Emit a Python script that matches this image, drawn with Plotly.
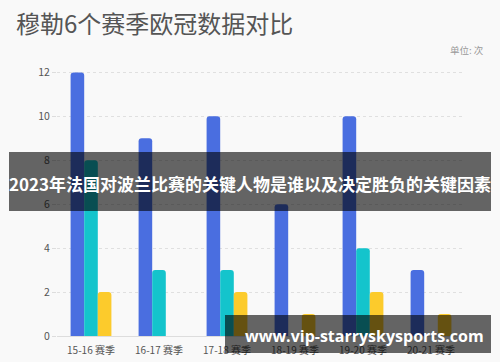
import plotly.graph_objects as go

categories = ["15-16 赛季", "16-17 赛季", "17-18 赛季", "18-19 赛季", "19-20 赛季", "20-21 赛季"]
series_a = [12, 9, 10, 6, 10, 3]
series_b = [8, 3, 3, 0, 4, 0]
series_c = [2, 0, 2, 1, 2, 1]
y_ticks = [0, 2, 4, 6, 8, 10, 12]

colors = ["#4a6ee0", "#14c4cc", "#fccb2c"]
FONT = "Noto Sans CJK SC"

fig = go.Figure()
for vals, col in zip([series_a, series_b, series_c], colors):
    fig.add_trace(go.Bar(x=categories, y=vals, marker=dict(color=col, line=dict(width=0)),
                         showlegend=False, hoverinfo="skip"))

L, R, T, B = 57, 35, 68, 26
W, H = 500, 362
pw, ph = W - L - R, H - T - B

def px(x):
    return (x - L) / pw

def py(y):
    return (H - B - y) / ph

fig.update_layout(
    width=W, height=H,
    margin=dict(l=L, r=R, t=T, b=B, autoexpand=False),
    paper_bgcolor="#f9f9f9", plot_bgcolor="#f9f9f9",
    barmode="group", bargap=0.4, bargroupgap=0, barcornerradius=3,
    font=dict(family=FONT, color="#555555"),
    xaxis=dict(showgrid=False, showline=True, linecolor="#dddddd", linewidth=1, automargin=False,
               ticks="", ticklabelstandoff=5, tickfont=dict(size=10, color="#555555"), fixedrange=True),
    yaxis=dict(range=[0, 12.2], tickvals=y_ticks, showgrid=True, gridcolor="#e0e0e0", automargin=False,
               griddash="dot", gridwidth=1, zeroline=False, showline=False,
               ticks="outside", ticklen=4, tickcolor="#dddddd",
               tickfont=dict(size=10.5, color="#555555"), fixedrange=True),
    shapes=[
        dict(type="rect", xref="paper", yref="paper", x0=px(9), x1=px(491), y0=py(211), y1=py(152),
             fillcolor="rgba(0,0,0,0.6)", line=dict(width=0), layer="above"),
        dict(type="rect", xref="paper", yref="paper", x0=px(225), x1=px(491), y0=py(353), y1=py(315),
             fillcolor="rgba(0,0,0,0.6)", line=dict(width=0), layer="above"),
    ],
    annotations=[
        dict(text="穆勒6个赛季欧冠数据对比", xref="paper", yref="paper", x=px(14), y=py(22),
             xanchor="left", yanchor="middle", showarrow=False,
             font=dict(size=24, color="#555555", family=FONT)),
        dict(text="单位: 次", xref="paper", yref="paper", x=px(486), y=py(50),
             xanchor="right", yanchor="middle", showarrow=False,
             font=dict(size=9.5, color="#999999", family=FONT)),
        dict(text="<b>2023年法国对波兰比赛的关键人物是谁以及决定胜负的关键因素</b>", xref="paper", yref="paper",
             x=px(250), y=py(183), xanchor="center", yanchor="middle", showarrow=False,
             font=dict(size=17, color="#ffffff", family=FONT)),
        dict(text="<b>www.vip-starryskysports.com</b>", xref="paper", yref="paper",
             x=px(364), y=py(336), xanchor="center", yanchor="middle", showarrow=False,
             font=dict(size=16, color="#ffffff", family="Open Sans")),
    ],
)

fig.write_html("out.html", config={"displayModeBar": False},
               post_script="document.body.style.margin='0';document.body.style.padding='0';document.body.style.overflow='hidden';")
